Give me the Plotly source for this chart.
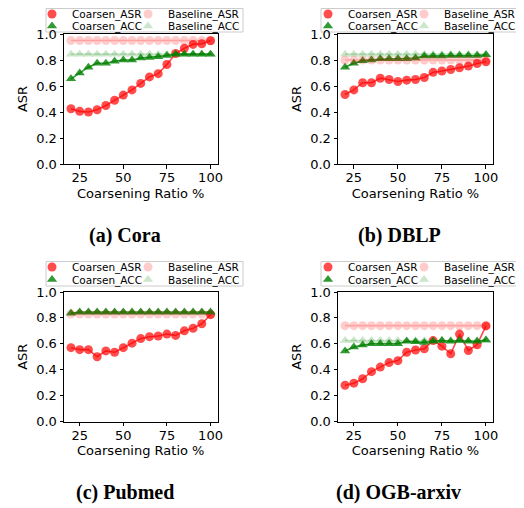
import plotly.graph_objects as go

# ---------------- data ----------------
ratio = [20, 25, 30, 35, 40, 45, 50, 55, 60, 65, 70, 75, 80, 85, 90, 95, 100]
x_ticks = [25, 50, 75, 100]
y_ticks = [0.0, 0.2, 0.4, 0.6, 0.8, 1.0]

series_names = ["Coarsen_ASR", "Coarsen_ACC", "Baseline_ASR", "Baseline_ACC"]
captions = ["(a) Cora", "(b) DBLP", "(c) Pubmed", "(d) OGB-arxiv"]

cora_coarsen_asr = [0.425, 0.405, 0.400, 0.417, 0.450, 0.490, 0.530, 0.570, 0.620, 0.670, 0.695,
                    0.765, 0.850, 0.890, 0.920, 0.925, 0.948]
cora_coarsen_acc = [0.655, 0.700, 0.745, 0.775, 0.775, 0.790, 0.800, 0.800, 0.815, 0.820, 0.825,
                    0.835, 0.845, 0.845, 0.845, 0.845, 0.845]
cora_baseline_asr = [0.95, 0.95, 0.95, 0.95, 0.95, 0.95, 0.95, 0.95, 0.95, 0.95, 0.95,
                     0.95, 0.95, 0.95, 0.95, 0.95, 0.95]
cora_baseline_acc = [0.845, 0.845, 0.845, 0.845, 0.845, 0.845, 0.845, 0.845, 0.845, 0.845, 0.845,
                     0.845, 0.845, 0.845, 0.845, 0.845, 0.845]

dblp_coarsen_asr = [0.535, 0.570, 0.625, 0.625, 0.660, 0.650, 0.635, 0.645, 0.650, 0.665, 0.705,
                    0.715, 0.727, 0.740, 0.753, 0.773, 0.786]
dblp_coarsen_acc = [0.745, 0.775, 0.795, 0.800, 0.810, 0.810, 0.810, 0.810, 0.815, 0.830, 0.830,
                    0.830, 0.835, 0.835, 0.835, 0.835, 0.840]
dblp_baseline_asr = [0.80, 0.80, 0.80, 0.80, 0.80, 0.80, 0.80, 0.80, 0.80, 0.80, 0.80,
                     0.80, 0.80, 0.80, 0.80, 0.80, 0.80]
dblp_baseline_acc = [0.845, 0.845, 0.845, 0.845, 0.845, 0.845, 0.845, 0.845, 0.845, 0.845, 0.845,
                     0.845, 0.845, 0.845, 0.845, 0.845, 0.845]

pubmed_coarsen_asr = [0.570, 0.555, 0.555, 0.500, 0.545, 0.535, 0.570, 0.605, 0.640, 0.655, 0.660,
                      0.675, 0.665, 0.700, 0.720, 0.755, 0.825]
pubmed_coarsen_acc = [0.835, 0.845, 0.845, 0.845, 0.845, 0.845, 0.845, 0.845, 0.845, 0.845, 0.845,
                      0.845, 0.845, 0.845, 0.845, 0.845, 0.845]
pubmed_baseline_asr = [0.83, 0.83, 0.83, 0.83, 0.83, 0.83, 0.83, 0.83, 0.83, 0.83, 0.83,
                       0.83, 0.83, 0.83, 0.83, 0.83, 0.83]
pubmed_baseline_acc = [0.84, 0.84, 0.84, 0.84, 0.84, 0.84, 0.84, 0.84, 0.84, 0.84, 0.84,
                       0.84, 0.84, 0.84, 0.84, 0.84, 0.84]

arxiv_coarsen_asr = [0.280, 0.296, 0.330, 0.385, 0.420, 0.455, 0.470, 0.535, 0.552, 0.562, 0.625,
                     0.582, 0.523, 0.675, 0.548, 0.593, 0.738]
arxiv_coarsen_acc = [0.545, 0.575, 0.590, 0.600, 0.600, 0.600, 0.600, 0.620, 0.615, 0.610, 0.620,
                     0.625, 0.620, 0.625, 0.620, 0.620, 0.630]
arxiv_baseline_asr = [0.74, 0.74, 0.74, 0.74, 0.74, 0.74, 0.74, 0.74, 0.74, 0.74, 0.74,
                      0.74, 0.74, 0.74, 0.74, 0.74, 0.74]
arxiv_baseline_acc = [0.625, 0.625, 0.625, 0.625, 0.625, 0.625, 0.625, 0.625, 0.625, 0.625, 0.625,
                      0.625, 0.625, 0.625, 0.625, 0.625, 0.625]

panel_series = [
    [cora_coarsen_asr, cora_coarsen_acc, cora_baseline_asr, cora_baseline_acc],
    [dblp_coarsen_asr, dblp_coarsen_acc, dblp_baseline_asr, dblp_baseline_acc],
    [pubmed_coarsen_asr, pubmed_coarsen_acc, pubmed_baseline_asr, pubmed_baseline_acc],
    [arxiv_coarsen_asr, arxiv_coarsen_acc, arxiv_baseline_asr, arxiv_baseline_acc],
]

# ---------------- styling / layout ----------------
# the page body adds an 8px margin, so the figure is drawn 8px in from the top-left
OFF = 8
W, H = 516, 500
FONT = "DejaVu Sans"

def fx(p):
    return (p - OFF) / W

def fy(p):
    return 1 - (p - OFF) / H

styles = [
    dict(color="rgba(255,0,0,0.7)", symbol="circle"),
    dict(color="rgba(0,128,0,0.8)", symbol="triangle-up"),
    dict(color="rgba(255,0,0,0.2)", symbol="circle"),
    dict(color="rgba(0,128,0,0.2)", symbol="triangle-up"),
]

# screen-pixel geometry of each panel: plot-area box, legend, caption
geom = [
    dict(x0=64, x1=217.5, y0=34, y1=164, leg_x=[52, 148], leg_y=[14, 26],
         box=(46, 243, 8.5, 32), cap=(124.5, 236)),
    dict(x0=338, x1=493, y0=34, y1=164, leg_x=[328, 424], leg_y=[14, 26],
         box=(321, 518, 8.5, 32), cap=(399, 236)),
    dict(x0=64, x1=217.5, y0=292, y1=421.5, leg_x=[52, 148], leg_y=[267, 279.5],
         box=(46, 243, 261.5, 286), cap=(124.5, 492)),
    dict(x0=338, x1=493, y0=292, y1=421.5, leg_x=[328, 424], leg_y=[267, 279.5],
         box=(321, 518, 261.5, 286), cap=(398, 492)),
]

LEG_OFF = 20  # symbol centre offset from legend left edge (px)

fig = go.Figure()
layout = dict(
    width=W, height=H,
    margin=dict(l=0, r=0, t=0, b=0, autoexpand=False),
    paper_bgcolor="white", plot_bgcolor="white",
    font=dict(family=FONT, color="black", size=12),
    shapes=[], annotations=[],
)

for i, (g, series) in enumerate(zip(geom, panel_series)):
    xa = "x" if i == 0 else f"x{i+1}"
    ya = "y" if i == 0 else f"y{i+1}"
    xkey = "xaxis" if i == 0 else f"xaxis{i+1}"
    ykey = "yaxis" if i == 0 else f"yaxis{i+1}"
    common = dict(showline=True, mirror=True, linecolor="black", linewidth=1,
                  ticks="outside", ticklen=3.5, tickwidth=1, tickcolor="black",
                  showgrid=False, zeroline=False,
                  tickfont=dict(family=FONT, size=13, color="black"))
    layout[xkey] = dict(common, domain=[fx(g["x0"]), fx(g["x1"])], anchor=ya,
                        range=[16, 104], tickvals=x_ticks, ticklabelstandoff=-2,
                        title=dict(text="Coarsening Ratio %", standoff=4,
                                   font=dict(family=FONT, size=13)))
    layout[ykey] = dict(common, domain=[fy(g["y1"]), fy(g["y0"])], anchor=xa,
                        range=[0, 1], tickvals=y_ticks, tickformat=".1f",
                        title=dict(text="ASR", standoff=5,
                                   font=dict(family=FONT, size=13)))
    for j, (name, vals, st) in enumerate(zip(series_names, series, styles)):
        fig.add_trace(go.Scatter(x=ratio, y=vals, mode="lines", xaxis=xa, yaxis=ya,
                                 line=dict(color=st["color"], width=1.6),
                                 showlegend=False, hoverinfo="skip"))
        leg = "legend" if (4 * i + j) == 0 else f"legend{4 * i + j + 1}"
        fig.add_trace(go.Scatter(x=ratio, y=vals, mode="markers", xaxis=xa, yaxis=ya,
                                 name=name, legend=leg,
                                 marker=dict(color=st["color"], symbol=st["symbol"], size=9,
                                             line=dict(width=0))))
        col = 0 if j < 2 else 1
        row = 0 if j in (0, 2) else 1
        layout[leg] = dict(x=fx(g["leg_x"][col] - LEG_OFF), y=fy(g["leg_y"][row]),
                           xanchor="left", yanchor="middle", orientation="v",
                           bgcolor="rgba(0,0,0,0)", borderwidth=0, itemwidth=30,
                           tracegroupgap=0,
                           font=dict(family=FONT, size=10.5, color="black"))
    bx0, bx1, by0, by1 = g["box"]
    layout["shapes"].append(dict(type="rect", xref="paper", yref="paper",
                                 x0=fx(bx0), x1=fx(bx1), y0=fy(by1), y1=fy(by0),
                                 line=dict(color="#cccccc", width=1),
                                 fillcolor="rgba(255,255,255,0.8)", layer="below"))
    layout["annotations"].append(dict(text=f"<b>{captions[i]}</b>", xref="paper", yref="paper",
                                      x=fx(g["cap"][0]), y=fy(g["cap"][1]),
                                      xanchor="center", yanchor="middle", showarrow=False,
                                      font=dict(family="Liberation Serif", size=20, color="black")))

fig.update_layout(**layout)
fig.write_html("out.html")
